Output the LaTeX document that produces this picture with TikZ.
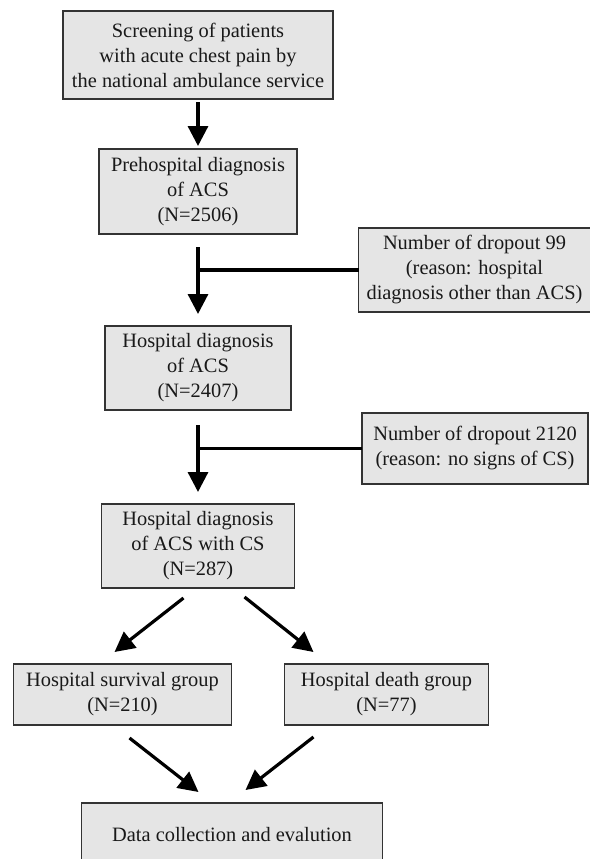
\documentclass[tikz,border=0pt]{standalone}
\usepackage{fontspec}
\setmainfont{Liberation Serif}
\usetikzlibrary{arrows.meta,positioning}

\begin{document}
\begin{tikzpicture}[x=0.5pt, y=-0.5pt, node distance=25pt,
    box/.style={rectangle, draw=black!80, line width=0.8pt, fill=gray!20, text=black!90, align=center, inner xsep=4pt, inner ysep=2pt, outer sep=0pt, font=\fontsize{10.2}{12.5}\selectfont},
    arrow/.style={line width=1.6pt, -{Triangle[length=10pt, width=10pt]}},
    link/.style={line width=1.6pt}]

    \useasboundingbox (0,0) rectangle (590,859);

    % Main chain
    \node [box, minimum width=135pt, minimum height=44pt] (screen) at (198,55) {Screening of patients\\with acute chest pain by\\the national ambulance service};
    \node [box, minimum width=99pt, minimum height=42.5pt, below=25pt of screen] (prehosp) {Prehospital diagnosis\\of ACS\\(N=2506)};
    \node [box, minimum width=93pt, minimum height=42pt, below=46pt of prehosp] (hosp) {Hospital diagnosis\\of ACS\\(N=2407)};
    \node [box, minimum width=96.5pt, minimum height=42pt, below=47pt of hosp] (hospcs) {Hospital diagnosis\\of ACS with CS\\(N=287)};
    \node [box, minimum width=109pt, minimum height=30.5pt, below=38pt of hospcs, xshift=-37.75pt] (surv) {Hospital survival group\\(N=210)};
    \node [box, minimum width=102pt, minimum height=30.5pt, below=38pt of hospcs, xshift=94.25pt] (death) {Hospital death group\\(N=77)};
    \node [box, minimum width=150.5pt, minimum height=32pt, below=39pt of surv, xshift=54.75pt] (data) {Data collection and evalution};

    % Dropouts
    \node [box, minimum width=112.5pt, minimum height=42pt] (drop1) at (474.5,270) {Number of dropout 99\\(reason: hospital\\diagnosis other than ACS)};
    \node [box, minimum width=113pt, minimum height=35.5pt] (drop2) at (475,448.5) {Number of dropout 2120\\(reason: no signs of CS)};

    % Connections
    \draw[arrow] ([yshift=-1.5pt]screen.south) -- ([yshift=1.5pt]prehosp.north);
    \draw[arrow] ([yshift=-6.5pt]prehosp.south) -- ([yshift=6pt]hosp.north);
    \draw[link] (drop1.west) -- (drop1.west -| prehosp.south);
    \draw[arrow] ([yshift=-7.5pt]hosp.south) -- ([yshift=6pt]hospcs.north);
    \draw[link] (drop2.west) -- (drop2.west -| hosp.south);

    % Split and merge
    \draw[arrow] ([xshift=-7.25pt, yshift=-5pt]hospcs.south) -- ([xshift=-4pt, yshift=6pt]surv.north);
    \draw[arrow] ([xshift=23.25pt, yshift=-4.5pt]hospcs.south) -- ([xshift=-36.5pt, yshift=6pt]death.north);
    \draw[arrow] ([xshift=3.5pt, yshift=-6.5pt]surv.south) -- ([xshift=-16.75pt, yshift=5.5pt]data.north);
    \draw[arrow] ([xshift=-36.5pt, yshift=-6pt]death.south) -- ([xshift=6.75pt, yshift=6.5pt]data.north);

\end{tikzpicture}
\end{document}
